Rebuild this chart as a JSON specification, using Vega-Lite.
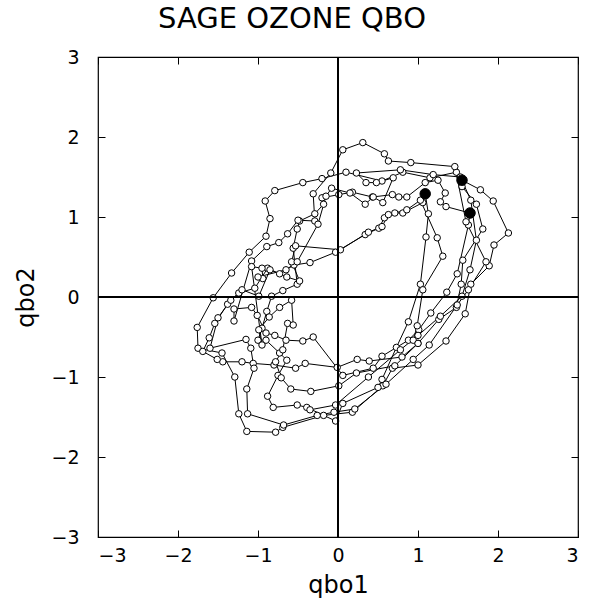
{
  "$schema": "https://vega.github.io/schema/vega-lite/v6.json",
  "width": 480,
  "height": 480,
  "autosize": "none",
  "padding": {"left": 98, "top": 57, "right": 13, "bottom": 64},
  "background": "white",
  "title": {"text": "SAGE OZONE QBO", "font": "DejaVu Sans", "fontSize": 29, "fontWeight": "normal", "color": "black", "anchor": "middle", "frame": "group", "dx": -46, "offset": 14},
  "config": {
    "view": {"stroke": "black", "strokeWidth": 1.2},
    "axis": {"labelFont": "DejaVu Sans", "labelFontSize": 19, "labelColor": "black", "titleFont": "DejaVu Sans", "titleFontSize": 24, "titleFontWeight": "normal", "titleColor": "black", "tickColor": "black", "tickWidth": 1, "domain": false, "grid": false}
  },
  "data": {"values": [
    {"i":1,"qbo1":1.55,"qbo2":1.46,"f":1},{"i":2,"qbo1":1.78,"qbo2":1.34},{"i":3,"qbo1":1.94,"qbo2":1.20},{"i":4,"qbo1":2.13,"qbo2":0.80},{"i":5,"qbo1":1.95,"qbo2":0.65},{"i":6,"qbo1":1.89,"qbo2":0.39},{"i":7,"qbo1":1.66,"qbo2":0.16},{"i":8,"qbo1":1.59,"qbo2":-0.21},{"i":9,"qbo1":1.35,"qbo2":-0.55},{"i":10,"qbo1":1.00,"qbo2":-0.85},
    {"i":11,"qbo1":0.68,"qbo2":-0.89},{"i":12,"qbo1":0.56,"qbo2":-1.11},{"i":13,"qbo1":0.18,"qbo2":-1.44},{"i":14,"qbo1":-0.18,"qbo2":-1.48},{"i":15,"qbo1":-0.69,"qbo2":-1.63},{"i":16,"qbo1":-0.78,"qbo2":-1.69},{"i":17,"qbo1":-1.14,"qbo2":-1.68},{"i":18,"qbo1":-1.24,"qbo2":-1.46},{"i":19,"qbo1":-1.29,"qbo2":-1.00},{"i":20,"qbo1":-1.45,"qbo2":-0.70},
    {"i":21,"qbo1":-1.75,"qbo2":-0.64},{"i":22,"qbo1":-1.76,"qbo2":-0.38},{"i":23,"qbo1":-1.56,"qbo2":-0.01},{"i":24,"qbo1":-1.33,"qbo2":0.30},{"i":25,"qbo1":-1.11,"qbo2":0.56},{"i":26,"qbo1":-0.90,"qbo2":0.76},{"i":27,"qbo1":-0.85,"qbo2":0.98},{"i":28,"qbo1":-0.91,"qbo2":1.20},{"i":29,"qbo1":-0.79,"qbo2":1.33},{"i":30,"qbo1":-0.44,"qbo2":1.43},
    {"i":31,"qbo1":-0.20,"qbo2":1.48},{"i":32,"qbo1":0.10,"qbo2":1.56},{"i":33,"qbo1":0.55,"qbo2":1.45},{"i":34,"qbo1":0.81,"qbo2":1.56},{"i":35,"qbo1":1.15,"qbo2":1.49},{"i":36,"qbo1":1.48,"qbo2":1.56},{"i":37,"qbo1":1.55,"qbo2":1.38},{"i":38,"qbo1":1.73,"qbo2":1.16},{"i":39,"qbo1":1.81,"qbo2":0.85},{"i":40,"qbo1":1.56,"qbo2":0.46},
    {"i":41,"qbo1":1.54,"qbo2":0.16},{"i":42,"qbo1":1.48,"qbo2":-0.13},{"i":43,"qbo1":1.26,"qbo2":-0.28},{"i":44,"qbo1":1.00,"qbo2":-0.58},{"i":45,"qbo1":0.80,"qbo2":-0.75},{"i":46,"qbo1":0.39,"qbo2":-0.80},{"i":47,"qbo1":0.24,"qbo2":-0.78},{"i":48,"qbo1":-0.01,"qbo2":-0.88},{"i":49,"qbo1":-0.41,"qbo2":-0.83},{"i":50,"qbo1":-0.53,"qbo2":-0.89},
    {"i":51,"qbo1":-0.80,"qbo2":-0.85},{"i":52,"qbo1":-1.06,"qbo2":-0.83},{"i":53,"qbo1":-1.20,"qbo2":-0.81},{"i":54,"qbo1":-1.44,"qbo2":-0.81},{"i":55,"qbo1":-1.51,"qbo2":-0.78},{"i":56,"qbo1":-1.69,"qbo2":-0.68},{"i":57,"qbo1":-1.61,"qbo2":-0.51},{"i":58,"qbo1":-1.54,"qbo2":-0.33},{"i":59,"qbo1":-1.38,"qbo2":-0.09},{"i":60,"qbo1":-1.24,"qbo2":0.05},
    {"i":61,"qbo1":-1.04,"qbo2":0.11},{"i":62,"qbo1":-0.88,"qbo2":0.36},{"i":63,"qbo1":-0.73,"qbo2":0.29},{"i":64,"qbo1":-0.55,"qbo2":0.40},{"i":65,"qbo1":-0.35,"qbo2":0.43},{"i":66,"qbo1":-0.03,"qbo2":0.56},{"i":67,"qbo1":0.34,"qbo2":0.78},{"i":68,"qbo1":0.51,"qbo2":0.86},{"i":69,"qbo1":0.58,"qbo2":0.99},{"i":70,"qbo1":0.71,"qbo2":1.05},
    {"i":71,"qbo1":0.81,"qbo2":1.05},{"i":72,"qbo1":1.06,"qbo2":1.18},{"i":73,"qbo1":1.09,"qbo2":1.29,"f":1},{"i":74,"qbo1":1.13,"qbo2":1.04},{"i":75,"qbo1":1.10,"qbo2":0.75},{"i":76,"qbo1":1.03,"qbo2":0.16},{"i":77,"qbo1":0.88,"qbo2":-0.31},{"i":78,"qbo1":0.73,"qbo2":-0.63},{"i":79,"qbo1":0.55,"qbo2":-1.03},{"i":80,"qbo1":0.50,"qbo2":-1.13},
    {"i":81,"qbo1":0.06,"qbo2":-1.33},{"i":82,"qbo1":-0.03,"qbo2":-1.55},{"i":83,"qbo1":-0.39,"qbo2":-1.38},{"i":84,"qbo1":-0.51,"qbo2":-1.35},{"i":85,"qbo1":-0.81,"qbo2":-1.38},{"i":86,"qbo1":-0.88,"qbo2":-1.24},{"i":87,"qbo1":-0.75,"qbo2":-0.98},{"i":88,"qbo1":-0.64,"qbo2":-0.79},{"i":89,"qbo1":-0.73,"qbo2":-0.70},{"i":90,"qbo1":-0.90,"qbo2":-0.54},
    {"i":91,"qbo1":-1.00,"qbo2":-0.54},{"i":92,"qbo1":-0.95,"qbo2":-0.39},{"i":93,"qbo1":-0.89,"qbo2":-0.18},{"i":94,"qbo1":-0.83,"qbo2":0.01},{"i":95,"qbo1":-0.69,"qbo2":0.08},{"i":96,"qbo1":-0.51,"qbo2":0.16},{"i":97,"qbo1":-0.56,"qbo2":0.61},{"i":98,"qbo1":-0.51,"qbo2":0.85},{"i":99,"qbo1":-0.48,"qbo2":0.95},{"i":100,"qbo1":-0.29,"qbo2":1.04},
    {"i":101,"qbo1":-0.18,"qbo2":1.16},{"i":102,"qbo1":-0.20,"qbo2":1.24},{"i":103,"qbo1":0.01,"qbo2":1.28},{"i":104,"qbo1":0.18,"qbo2":1.31},{"i":105,"qbo1":0.43,"qbo2":1.25},{"i":106,"qbo1":0.68,"qbo2":1.28},{"i":107,"qbo1":0.76,"qbo2":1.25},{"i":108,"qbo1":0.86,"qbo2":1.25},{"i":109,"qbo1":1.09,"qbo2":1.43},{"i":110,"qbo1":1.25,"qbo2":1.46},
    {"i":111,"qbo1":1.34,"qbo2":1.30},{"i":112,"qbo1":1.28,"qbo2":1.19},{"i":113,"qbo1":1.35,"qbo2":1.13},{"i":114,"qbo1":1.65,"qbo2":1.05,"f":1},{"i":115,"qbo1":1.63,"qbo2":0.90},{"i":116,"qbo1":1.49,"qbo2":0.29},{"i":117,"qbo1":1.36,"qbo2":0.06},{"i":118,"qbo1":1.16,"qbo2":-0.20},{"i":119,"qbo1":1.01,"qbo2":-0.41},{"i":120,"qbo1":0.88,"qbo2":-0.54},
    {"i":121,"qbo1":0.55,"qbo2":-0.74},{"i":122,"qbo1":0.44,"qbo2":-0.89},{"i":123,"qbo1":0.06,"qbo2":-0.98},{"i":124,"qbo1":-0.31,"qbo2":-0.50},{"i":125,"qbo1":-0.44,"qbo2":-0.55},{"i":126,"qbo1":-0.65,"qbo2":-0.54},{"i":127,"qbo1":-0.79,"qbo2":-0.48},{"i":128,"qbo1":-0.90,"qbo2":-0.45},{"i":129,"qbo1":-1.01,"qbo2":-0.23},{"i":130,"qbo1":-1.08,"qbo2":-0.13},
    {"i":131,"qbo1":-1.30,"qbo2":-0.15},{"i":132,"qbo1":-1.30,"qbo2":-0.30},{"i":133,"qbo1":-1.08,"qbo2":0.45},{"i":134,"qbo1":-0.89,"qbo2":0.63},{"i":135,"qbo1":-0.74,"qbo2":0.68},{"i":136,"qbo1":-0.63,"qbo2":0.79},{"i":137,"qbo1":-0.50,"qbo2":0.96},{"i":138,"qbo1":-0.29,"qbo2":0.95},{"i":139,"qbo1":-0.31,"qbo2":1.29},{"i":140,"qbo1":-0.09,"qbo2":1.55},
    {"i":141,"qbo1":0.06,"qbo2":1.84},{"i":142,"qbo1":0.31,"qbo2":1.93},{"i":143,"qbo1":0.58,"qbo2":1.79},{"i":144,"qbo1":0.63,"qbo2":1.70},{"i":145,"qbo1":0.91,"qbo2":1.68},{"i":146,"qbo1":1.46,"qbo2":1.63},{"i":147,"qbo1":1.60,"qbo2":0.94},{"i":148,"qbo1":1.85,"qbo2":0.44},{"i":149,"qbo1":1.63,"qbo2":0.09},{"i":150,"qbo1":1.49,"qbo2":-0.10},
    {"i":151,"qbo1":1.14,"qbo2":-0.60},{"i":152,"qbo1":0.94,"qbo2":-0.78},{"i":153,"qbo1":0.60,"qbo2":-1.09},{"i":154,"qbo1":0.21,"qbo2":-1.40},{"i":155,"qbo1":-0.05,"qbo2":-1.44},{"i":156,"qbo1":-0.26,"qbo2":-1.48},{"i":157,"qbo1":-0.68,"qbo2":-1.60},{"i":158,"qbo1":-1.13,"qbo2":-1.46},{"i":159,"qbo1":-1.14,"qbo2":-1.15},{"i":160,"qbo1":-1.05,"qbo2":-0.89},
    {"i":161,"qbo1":-1.09,"qbo2":-0.64},{"i":162,"qbo1":-1.15,"qbo2":-0.53},{"i":163,"qbo1":-1.60,"qbo2":-0.64},{"i":164,"qbo1":-1.50,"qbo2":-0.26},{"i":165,"qbo1":-1.34,"qbo2":-0.04},{"i":166,"qbo1":-1.20,"qbo2":0.09},{"i":167,"qbo1":-0.99,"qbo2":0.01},{"i":168,"qbo1":-0.85,"qbo2":0.34},{"i":169,"qbo1":-0.64,"qbo2":0.25},{"i":170,"qbo1":-0.48,"qbo2":0.20},
    {"i":171,"qbo1":-0.58,"qbo2":0.44},{"i":172,"qbo1":-0.53,"qbo2":0.64},{"i":173,"qbo1":0.03,"qbo2":0.59},{"i":174,"qbo1":0.38,"qbo2":0.81},{"i":175,"qbo1":0.55,"qbo2":0.88},{"i":176,"qbo1":0.63,"qbo2":1.03},{"i":177,"qbo1":0.86,"qbo2":1.09},{"i":178,"qbo1":1.03,"qbo2":1.21},{"i":179,"qbo1":1.24,"qbo2":0.74},{"i":180,"qbo1":1.31,"qbo2":0.51},
    {"i":181,"qbo1":1.06,"qbo2":0.09},{"i":182,"qbo1":0.99,"qbo2":-0.36},{"i":183,"qbo1":0.94,"qbo2":-0.54},{"i":184,"qbo1":1.00,"qbo2":-0.58},{"i":185,"qbo1":0.71,"qbo2":-0.86},{"i":186,"qbo1":0.23,"qbo2":-0.95},{"i":187,"qbo1":0.01,"qbo2":-1.11},{"i":188,"qbo1":-0.34,"qbo2":-1.18},{"i":189,"qbo1":-0.59,"qbo2":-1.15},{"i":190,"qbo1":-0.71,"qbo2":-1.01},
    {"i":191,"qbo1":-0.78,"qbo2":-0.81},{"i":192,"qbo1":-0.69,"qbo2":-0.66},{"i":193,"qbo1":-0.63,"qbo2":-0.33},{"i":194,"qbo1":-0.56,"qbo2":-0.35},{"i":195,"qbo1":-0.58,"qbo2":-0.04},{"i":196,"qbo1":-0.73,"qbo2":-0.13},{"i":197,"qbo1":-0.86,"qbo2":-0.25},{"i":198,"qbo1":-0.99,"qbo2":-0.41},{"i":199,"qbo1":-0.95,"qbo2":-0.60},{"i":200,"qbo1":-1.08,"qbo2":0.38},
    {"i":201,"qbo1":-0.95,"qbo2":0.36},{"i":202,"qbo1":-0.94,"qbo2":0.23},{"i":203,"qbo1":-1.00,"qbo2":0.25},{"i":204,"qbo1":-0.65,"qbo2":0.34},{"i":205,"qbo1":-0.51,"qbo2":0.44},{"i":206,"qbo1":-0.25,"qbo2":0.91},{"i":207,"qbo1":-0.15,"qbo2":1.26},{"i":208,"qbo1":-0.08,"qbo2":1.36},{"i":209,"qbo1":0.15,"qbo2":1.30},{"i":210,"qbo1":0.34,"qbo2":1.16},
    {"i":211,"qbo1":0.44,"qbo2":1.25},{"i":212,"qbo1":0.56,"qbo2":1.18},{"i":213,"qbo1":0.69,"qbo2":1.49},{"i":214,"qbo1":0.48,"qbo2":1.43},{"i":215,"qbo1":0.35,"qbo2":1.43},{"i":216,"qbo1":0.23,"qbo2":1.55},{"i":217,"qbo1":0.78,"qbo2":1.59},{"i":218,"qbo1":1.19,"qbo2":1.53},{"i":219,"qbo1":1.53,"qbo2":1.50},{"i":220,"qbo1":1.66,"qbo2":1.21},
    {"i":221,"qbo1":1.73,"qbo2":0.71},{"i":222,"qbo1":1.65,"qbo2":0.34},{"i":223,"qbo1":1.55,"qbo2":0.01},{"i":224,"qbo1":1.28,"qbo2":-0.24},{"i":225,"qbo1":1.00,"qbo2":-0.48},{"i":226,"qbo1":0.78,"qbo2":-0.66},{"i":227,"qbo1":0.38,"qbo2":-1.00},{"i":228,"qbo1":-0.03,"qbo2":-1.35},{"i":229,"qbo1":-0.35,"qbo2":-1.41}
  ]},
  "resolve": {"scale": {"x": "independent", "y": "independent"}},
  "layer": [
    {
      "layer": [
        {"mark": {"type": "line", "color": "black", "strokeWidth": 1},
         "encoding": {
           "x": {"field": "qbo1", "type": "quantitative", "scale": {"domain": [-3, 3], "nice": false, "zero": false}, "axis": {"orient": "bottom", "title": "qbo1", "values": [-3, -2, -1, 0, 1, 2, 3], "format": "d", "tickSize": -7, "labelPadding": 16, "titlePadding": 8}},
           "y": {"field": "qbo2", "type": "quantitative", "scale": {"domain": [-3, 3], "nice": false, "zero": false}, "axis": {"orient": "left", "title": "qbo2", "values": [-3, -2, -1, 0, 1, 2, 3], "format": "d", "tickSize": -7, "labelPadding": 26, "titlePadding": 12}},
           "order": {"field": "i", "type": "quantitative"}}},
        {"mark": {"type": "point", "shape": "circle", "filled": true, "fill": "white", "stroke": "black", "strokeWidth": 1, "size": 42, "opacity": 1},
         "encoding": {
           "x": {"field": "qbo1", "type": "quantitative"},
           "y": {"field": "qbo2", "type": "quantitative"}}},
        {"transform": [{"filter": "datum.f == 1"}],
         "mark": {"type": "point", "shape": "circle", "filled": true, "fill": "black", "stroke": "black", "strokeWidth": 1, "size": 110, "opacity": 1},
         "encoding": {
           "x": {"field": "qbo1", "type": "quantitative"},
           "y": {"field": "qbo2", "type": "quantitative"}}}
      ]
    },
    {
      "layer": [
        {"mark": {"type": "rule", "color": "black", "strokeWidth": 0.8},
         "encoding": {"x": {"datum": 0, "type": "quantitative", "scale": {"domain": [-3, 3], "nice": false, "zero": false}, "axis": {"orient": "top", "labels": false, "title": null, "values": [-3, -2, -1, 0, 1, 2, 3], "tickSize": -7}}}},
        {"mark": {"type": "rule", "color": "black", "strokeWidth": 0.8},
         "encoding": {"y": {"datum": 0, "type": "quantitative", "scale": {"domain": [-3, 3], "nice": false, "zero": false}, "axis": {"orient": "right", "labels": false, "title": null, "values": [-3, -2, -1, 0, 1, 2, 3], "tickSize": -7}}}}
      ]
    }
  ]
}
